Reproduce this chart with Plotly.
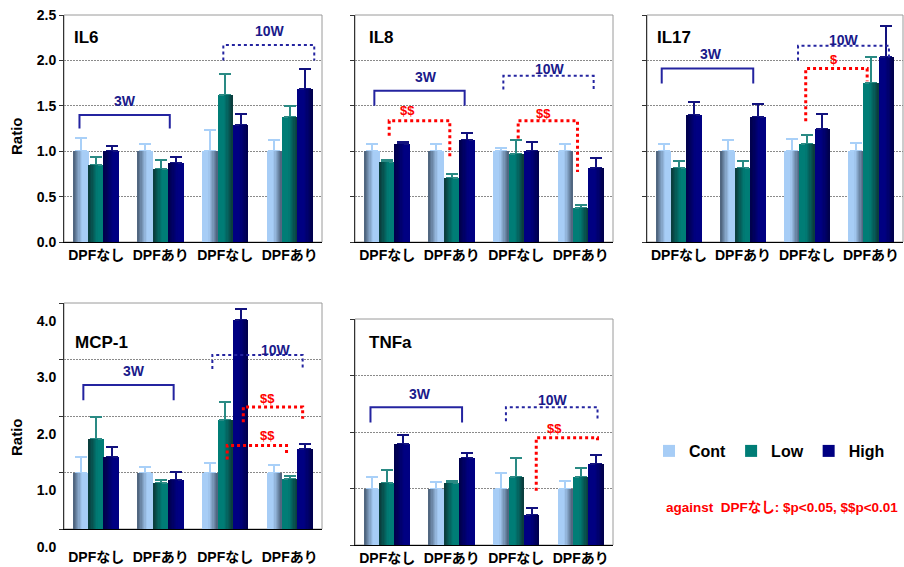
import plotly.graph_objects as go

# ---------------------------------------------------------------- data
groups = ["3W DPFなし", "3W DPFあり", "10W DPFなし", "10W DPFあり"]
weeks = ["3W", "3W", "10W", "10W"]
tick_labels = ["DPFなし", "DPFあり", "DPFなし", "DPFあり"]
series_names = ["Cont", "Low", "High"]

il6_cont = [1.00, 1.00, 1.00, 1.00]
il6_cont_err = [0.15, 0.08, 0.23, 0.12]
il6_low = [0.85, 0.80, 1.62, 1.38]
il6_low_err = [0.09, 0.10, 0.23, 0.12]
il6_high = [1.00, 0.87, 1.29, 1.69]
il6_high_err = [0.06, 0.07, 0.12, 0.21]

il8_cont = [1.00, 1.00, 1.00, 1.00]
il8_cont_err = [0.08, 0.08, 0.04, 0.08]
il8_low = [0.88, 0.71, 0.965, 0.37]
il8_low_err = [0.025, 0.04, 0.155, 0.035]
il8_high = [1.08, 1.12, 1.00, 0.81]
il8_high_err = [0.02, 0.08, 0.10, 0.11]

il17_cont = [1.00, 1.00, 1.00, 1.00]
il17_cont_err = [0.08, 0.12, 0.13, 0.09]
il17_low = [0.81, 0.81, 1.08, 1.75]
il17_low_err = [0.085, 0.085, 0.095, 0.29]
il17_high = [1.40, 1.38, 1.24, 2.04]
il17_high_err = [0.14, 0.14, 0.17, 0.34]

mcp1_cont = [1.00, 1.00, 1.00, 1.00]
mcp1_cont_err = [0.27, 0.10, 0.16, 0.13]
mcp1_low = [1.59, 0.82, 1.93, 0.88]
mcp1_low_err = [0.39, 0.05, 0.31, 0.05]
mcp1_high = [1.27, 0.875, 3.70, 1.41]
mcp1_high_err = [0.18, 0.135, 0.19, 0.10]

tnfa_cont = [1.00, 1.00, 1.00, 1.00]
tnfa_cont_err = [0.21, 0.11, 0.28, 0.14]
tnfa_low = [1.10, 1.10, 1.20, 1.20]
tnfa_low_err = [0.23, 0.04, 0.34, 0.17]
tnfa_high = [1.78, 1.545, 0.53, 1.44]
tnfa_high_err = [0.17, 0.09, 0.13, 0.16]

# ---------------------------------------------------------------- styling
FONT = "Liberation Sans, Arial, Noto Sans CJK JP, sans-serif"
W, H = 904, 567
LIGHT = ["#a7cdf6", "#007d76", "#000082"]      # bar body colours
DARK = ["#4a5f78", "#0b3a3a", "#00004a"]       # shaded bar edge
ERR = ["#a9d0f8", "#2a8a84", "#12127e"]
NAVY = "#2424a0"
RED = "#ff0000"
BAR_W = 0.238
BAR_START = -0.357
STEPS = 7
FADE = 0.6


def px_x(a, b):
    return [a / W, b / W]


def px_y(top, bottom):
    return [1 - bottom / H, 1 - top / H]


# each panel: values, axis geometry, brackets
panels = [
    dict(name="IL6", series=[(il6_cont, il6_cont_err), (il6_low, il6_low_err), (il6_high, il6_high_err)],
         dx=px_x(64, 322), dy=px_y(15, 242), yr=[0, 2.5], dtick=0.5, labels=True, shift=0,
         standoff=0, title_x=0.031, title_y=0.903,
         w3=(-0.26, 1.14, 1.40, 1.25, 1.25, 0.44, 1.55),
         w10=(1.97, 3.38, 2.17, 2.0, 2.0, 2.70, 2.32),
         red=[]),
    dict(name="IL8", series=[(il8_cont, il8_cont_err), (il8_low, il8_low_err), (il8_high, il8_high_err)],
         dx=px_x(355, 613), dy=px_y(15, 242), yr=[0, 2.5], dtick=0.5, labels=False, shift=0,
         standoff=0, title_x=0.0465, title_y=0.90,
         w3=(-0.2, 1.2, 1.667, 1.50, 1.50, 0.60, 1.815),
         w10=(1.8, 3.2, 1.83, 1.68, 1.68, 2.53, 1.91),
         red=[(0.03, 0.97, 1.335, 1.17, 0.93, "$$", 0.31, 1.445),
              (2.03, 2.95, 1.335, 1.14, 0.77, "$$", 2.42, 1.41)]),
    dict(name="IL17", series=[(il17_cont, il17_cont_err), (il17_low, il17_low_err), (il17_high, il17_high_err)],
         dx=px_x(647, 903), dy=px_y(15, 242), yr=[0, 2.5], dtick=0.5, labels=False, shift=0,
         standoff=0, title_x=0.031, title_y=0.90,
         w3=(-0.27, 1.16, 1.91, 1.745, 1.745, 0.50, 2.07),
         w10=(1.86, 3.28, 2.16, 2.0, 2.0, 2.58, 2.22),
         red=[(1.98, 2.94, 1.91, 1.33, 1.77, "$", 2.42, 2.01)]),
    dict(name="MCP-1", series=[(mcp1_cont, mcp1_cont_err), (mcp1_low, mcp1_low_err), (mcp1_high, mcp1_high_err)],
         dx=px_x(64, 322), dy=px_y(303, 529), yr=[0, 4.0], dtick=1.0, labels=True, shift=18,
         standoff=15, title_x=0.035, title_y=0.827,
         w3=(-0.2, 1.2, 2.55, 2.28, 2.28, 0.59, 2.80),
         w10=(1.8, 3.2, 3.08, 2.83, 2.83, 2.78, 3.17),
         red=[(2.28, 3.2, 2.16, 1.89, 1.95, "$$", 2.66, 2.31),
              (2.03, 2.95, 1.48, 1.23, 1.30, "$$", 2.66, 1.65)]),
    dict(name="TNFa", series=[(tnfa_cont, tnfa_cont_err), (tnfa_low, tnfa_low_err), (tnfa_high, tnfa_high_err)],
         dx=px_x(355, 613), dy=px_y(319, 545), yr=[0, 4.0], dtick=1.0, labels=False, shift=0,
         standoff=0, title_x=0.0465, title_y=0.898,
         w3=(-0.26, 1.16, 2.44, 2.17, 2.17, 0.51, 2.68),
         w10=(1.84, 3.26, 2.44, 2.19, 2.19, 2.57, 2.56),
         red=[(2.31, 3.26, 1.90, 0.96, 1.80, "$$", 2.59, 2.07)]),
]


def mix(c1, c2, f):
    a = [int(c1[i:i + 2], 16) for i in (1, 3, 5)]
    b = [int(c2[i:i + 2], 16) for i in (1, 3, 5)]
    return "#" + "".join(f"{round(a[k] + (b[k] - a[k]) * f):02x}" for k in range(3))


def bracket_path(x0, x1, ytop, yl, yr):
    return f"M {x0},{yl} L {x0},{ytop} L {x1},{ytop} L {x1},{yr}"


fig = go.Figure()
xs = list(range(len(groups)))
shapes, annotations = [], []

for p, panel in enumerate(panels):
    sfx = "" if p == 0 else str(p + 1)
    xa, ya = "x" + sfx, "y" + sfx

    for s, (vals, errs) in enumerate(panel["series"]):
        left = BAR_START + s * BAR_W
        fig.add_trace(go.Bar(
            x=xs, y=vals, offset=left, width=BAR_W, name=series_names[s],
            legendgroup=series_names[s], showlegend=(p == 0),
            marker=dict(color=LIGHT[s], line=dict(width=0)),
            error_y=dict(type="data", symmetric=False, array=errs, arrayminus=[0] * len(errs),
                         color=ERR[s], thickness=2, width=6),
            xaxis=xa, yaxis=ya, hovertext=groups,
        ))
        # shaded edge: nested bars narrowing toward the dark side
        for j in range(STEPS, 0, -1):
            bw = BAR_W * FADE * j / STEPS
            col = mix(DARK[s], LIGHT[s], (j - 0.5) / STEPS)
            offs = [left if wk == "3W" else left + BAR_W - bw for wk in weeks]
            fig.add_trace(go.Bar(
                x=xs, y=vals, offset=offs, width=bw, showlegend=False,
                marker=dict(color=col, line=dict(width=0)),
                hoverinfo="skip", xaxis=xa, yaxis=ya,
            ))

    # axes
    fig.layout["xaxis" + sfx] = dict(
        domain=panel["dx"], anchor=ya, range=[-0.5, 3.5], tickvals=xs, ticktext=tick_labels,
        showline=True, linecolor="#000", linewidth=1, ticks="", showgrid=False, zeroline=False,
        tickfont=dict(family=FONT, size=14, color="#000", weight="bold"),
        ticklabelstandoff=panel["standoff"], automargin=False,
    )
    fig.layout["yaxis" + sfx] = dict(
        domain=panel["dy"], anchor=xa, range=panel["yr"], dtick=panel["dtick"], tick0=0,
        tickformat=".1f", showticklabels=panel["labels"], ticklabelshift=panel["shift"],
        showline=True, linecolor="#333", linewidth=1, ticks="outside", ticklen=4, tickcolor="#333",
        showgrid=True, gridcolor="#8a8a8a", griddash="2px,1px", gridwidth=1, zeroline=False,
        tickfont=dict(family=FONT, size=14, color="#000", weight="bold"), automargin=False,
    )

    # panel frame
    shapes.append(dict(type="rect", xref=xa + " domain", yref=ya + " domain", x0=0, x1=1, y0=0, y1=1,
                       line=dict(color="#9a9a9a", width=1), layer="below"))

    # panel title
    annotations.append(dict(text=panel["name"], xref=xa + " domain", yref=ya + " domain",
                            x=panel["title_x"], y=panel["title_y"], xanchor="left", yanchor="middle",
                            showarrow=False, font=dict(family=FONT, size=17, color="#000", weight="bold")))

    # 3W (solid) and 10W (dotted) brackets
    for key, label, dash in (("w3", "3W", "solid"), ("w10", "10W", "dot")):
        x0, x1, yt, yl, yr, lx, ly = panel[key]
        shapes.append(dict(type="path", xref=xa, yref=ya, path=bracket_path(x0, x1, yt, yl, yr),
                           line=dict(color=NAVY, width=2, dash=dash)))
        annotations.append(dict(text=label, xref=xa, yref=ya, x=lx, y=ly, showarrow=False,
                                xanchor="center", yanchor="middle",
                                font=dict(family=FONT, size=14, color="#1a1a8a", weight="bold")))

    # significance brackets
    for x0, x1, yt, yl, yr, label, lx, ly in panel["red"]:
        shapes.append(dict(type="path", xref=xa, yref=ya, path=bracket_path(x0, x1, yt, yl, yr),
                           line=dict(color=RED, width=3, dash="dot")))
        annotations.append(dict(text=label, xref=xa, yref=ya, x=lx, y=ly, showarrow=False,
                                xanchor="center", yanchor="middle",
                                font=dict(family=FONT, size=13, color=RED, weight="bold")))

# y-axis titles
for yc in (136, 437):
    annotations.append(dict(text="Ratio", xref="paper", yref="paper", x=16 / W, y=1 - yc / H,
                            textangle=-90, showarrow=False, xanchor="center", yanchor="middle",
                            font=dict(family=FONT, size=15, color="#000", weight="bold")))

# significance key
annotations.append(dict(text="against  DPFなし: $p<0.05, $$p<0.01", xref="paper", yref="paper",
                        x=664 / W, y=1 - 507 / H, xanchor="left", yanchor="middle", showarrow=False,
                        font=dict(family=FONT, size=13.5, color=RED, weight="bold")))

fig.update_layout(
    width=W, height=H, autosize=False,
    margin=dict(l=0, r=0, t=0, b=0, autoexpand=False),
    paper_bgcolor="white", plot_bgcolor="white",
    barmode="overlay", bargap=0,
    shapes=shapes, annotations=annotations,
    legend=dict(orientation="h", x=649 / W, y=1 - 451 / H, xanchor="left", yanchor="middle",
                bgcolor="rgba(0,0,0,0)", font=dict(family=FONT, size=16, color="#000", weight="bold"),
                itemwidth=30, traceorder="normal"),
    showlegend=True,
)

fig.write_html("out.html")
